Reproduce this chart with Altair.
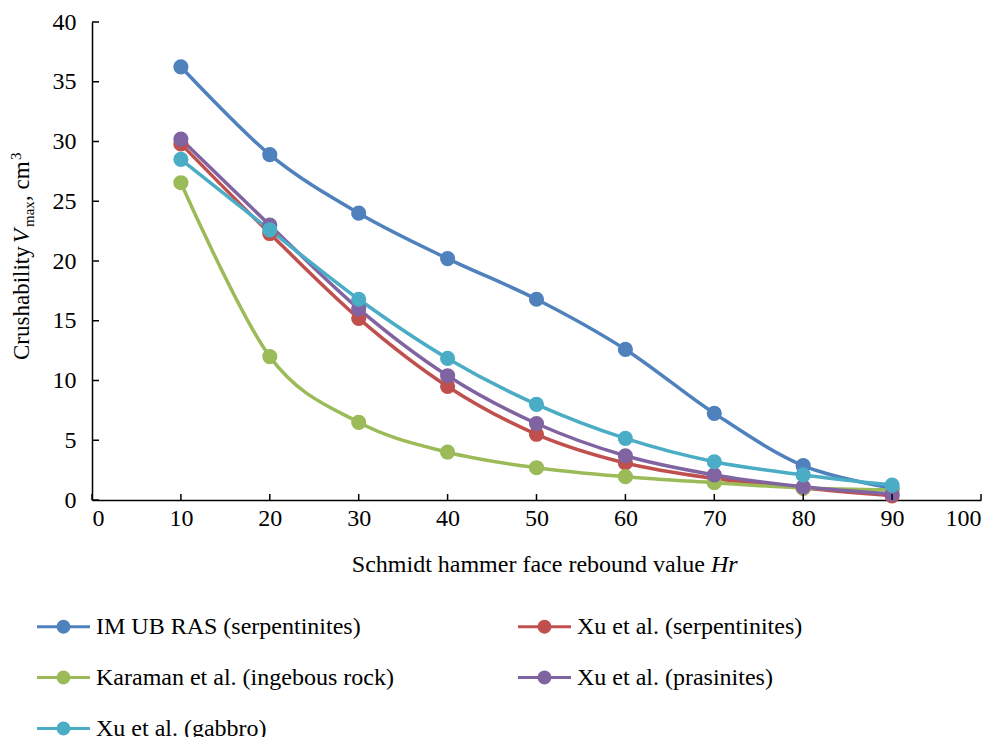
import altair as alt
import pandas as pd

hr = [10, 20, 30, 40, 50, 60, 70, 80, 90]
series_names = [
    "IM UB RAS (serpentinites)",
    "Xu et al. (serpentinites)",
    "Karaman et al. (ingebous rock)",
    "Xu et al. (prasinites)",
    "Xu et al. (gabbro)",
]
im_ub = [36.25, 28.9, 24.0, 20.2, 16.8, 12.6, 7.25, 2.87, 1.0]
xu_serp = [29.8, 22.3, 15.2, 9.5, 5.5, 3.1, 1.8, 1.0, 0.35]
karaman = [26.55, 12.0, 6.5, 4.0, 2.7, 1.95, 1.45, 1.0, 0.85]
xu_pras = [30.2, 23.0, 16.0, 10.4, 6.4, 3.7, 2.1, 1.1, 0.5]
xu_gab = [28.5, 22.6, 16.8, 11.85, 8.0, 5.15, 3.2, 2.1, 1.25]
colors = ["#4F81BD", "#C0504D", "#9BBB59", "#8064A2", "#4BACC6"]

y_ticks = [0, 5, 10, 15, 20, 25, 30, 35, 40]
x_ticks = [0, 10, 20, 30, 40, 50, 60, 70, 80, 90, 100]

rows = []
for name, vals in zip(series_names, [im_ub, xu_serp, karaman, xu_pras, xu_gab]):
    for i, (x, y) in enumerate(zip(hr, vals)):
        rows.append({"series": name, "Hr": x, "V": y, "idx": i})
df = pd.DataFrame(rows)

# legend fills column by column: order entries so rows read as in the reference
legend_order = [series_names[i] for i in (0, 2, 4, 1, 3)]
legend_colors = [colors[i] for i in (0, 2, 4, 1, 3)]

FONT = "Liberation Serif"
FS = 24
xscale = alt.Scale(domain=[0, 100], nice=False)
yscale = alt.Scale(domain=[0, 40], nice=False)
cscale = alt.Scale(domain=legend_order, range=legend_colors)

legend_path = (
    "M-1,-0.06 L1,-0.06 L1,0.06 L-1,0.06 Z "
    "M0.26,0 A0.26,0.26 0 1,1 -0.26,0 A0.26,0.26 0 1,1 0.26,0 Z"
)

legend = alt.Legend(
    title=None, orient="none", legendX=-55, legendY=578, columns=2,
    columnPadding=124, rowPadding=12, symbolType=legend_path,
    symbolSize=2809, symbolStrokeWidth=0, labelFont=FONT,
    labelFontSize=FS, labelColor="black", labelOffset=6,
    labelLimit=500,
)

base = alt.Chart(df)

lines = base.mark_line(strokeWidth=3.5, interpolate="cardinal").encode(
    x=alt.X("Hr:Q", scale=xscale,
            axis=alt.Axis(values=x_ticks, ticks=False, grid=False, title=None,
                          labelPadding=6, labelFont=FONT)),
    y=alt.Y("V:Q", scale=yscale,
            axis=alt.Axis(values=y_ticks, ticks=False, grid=False, title=None,
                          labelPadding=16, labelFont=FONT)),
    color=alt.Color("series:N", scale=cscale, legend=legend),
    detail="series:N",
    order="idx:Q",
)

points = base.mark_point(filled=True, size=230, opacity=1, strokeWidth=0).encode(
    x=alt.X("Hr:Q", scale=xscale),
    y=alt.Y("V:Q", scale=yscale),
    color=alt.Color("series:N", scale=cscale, legend=legend),
)

ytick_df = pd.DataFrame({"v": y_ticks})
xtick_df = pd.DataFrame({"v": x_ticks})
yt = alt.Chart(ytick_df).mark_rule(color="black", strokeWidth=1.5).encode(
    y=alt.Y("v:Q", scale=yscale), x=alt.value(0), x2=alt.value(7))
xt = alt.Chart(xtick_df).mark_rule(color="black", strokeWidth=1.5).encode(
    x=alt.X("v:Q", scale=xscale), y=alt.value(478), y2=alt.value(472))

# axis titles with mixed styles
def txt(s, x, y, size=FS, style="normal", angle=0, align="left"):
    return alt.Chart(pd.DataFrame({"t": [s]})).mark_text(
        font=FONT, fontSize=size, fontStyle=style, angle=angle, align=align,
        baseline="middle", color="black"
    ).encode(text="t:N", x=alt.value(x), y=alt.value(y))

xtitle = [
    txt("Schmidt hammer face rebound value", 613, 543, align="right"),
    txt("Hr", 619, 543, style="italic"),
]
ytitle = [
    txt("Crushability", -70, 338, size=23, angle=270),
    txt("V", -70, 221, size=23, style="italic", angle=270),
    txt("max", -63, 205, size=15, angle=270),
    txt(", cm", -70, 179, size=23, angle=270),
    txt("3", -76, 138, size=15, angle=270),
]

chart = alt.layer(lines, points, yt, xt, *xtitle, *ytitle).properties(
    width=889, height=478,
    autosize=alt.AutoSizeParams(type="none"),
    padding={"left": 84, "top": 14, "right": 14, "bottom": 245},
).configure_view(stroke=None).configure_axis(
    domainColor="black", domainWidth=1.5, labelFont=FONT, labelFontSize=FS,
    labelColor="black",
).configure_legend(labelFont=FONT).configure_text(font=FONT)

chart.save("out.html", embed_options={"renderer": "svg", "actions": False})
